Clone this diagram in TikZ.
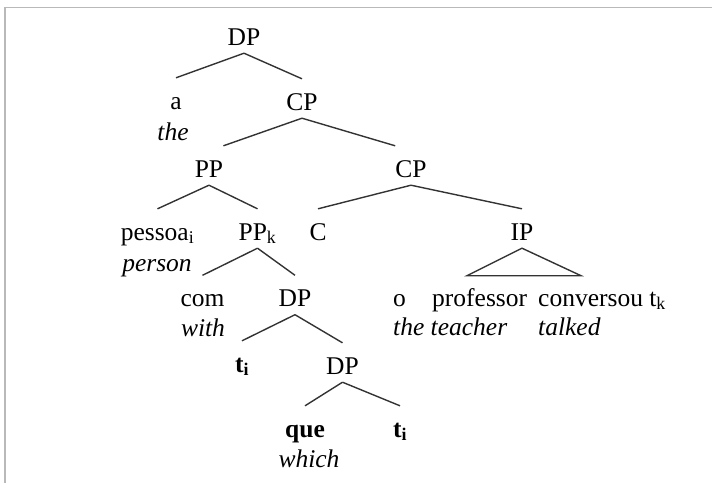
\documentclass[tikz,border=0pt]{standalone}
\usepackage{fontspec}
\setmainfont{Liberation Serif}
\usepackage{tikz}
\usetikzlibrary{positioning}
\tikzset{
    word/.style={anchor=base, inner sep=0pt, text height=31pt, text depth=8pt,
        font=\fontsize{25.5}{30}\selectfont}, % label of a tree node
    gloss/.style={word, font=\fontsize{25.5}{30}\selectfont\itshape}, % english gloss
    branch/.style={black!80, line width=1.4pt}
}

\begin{document}
\begin{tikzpicture}[x=1pt, y=-1pt]

    \useasboundingbox (0,0) rectangle (712,483);
    \draw[gray!55, line width=1.6pt] (712,7.5) -- (5,7.5) -- (5,483);

    \node[word] (DP0) at (244,45) {DP};

    \node[word] (a) at (176,109) {a};
    \node[gloss] (the) at (173,140) {the};
    \node[word] (CP1) at (302,110) {CP};

    \node[word] (PP) at (209,177) {PP};
    \node[word] (CP2) at (411,177) {CP};

    \node[word] (pessoa) at (157.5,240) {pessoa\textsubscript{i}};
    \node[gloss] (person) at (157,271) {person};
    \node[word] (PPk) at (257.5,240) {PP\textsubscript{k}};
    \node[word] (C) at (318,240) {C};
    \node[word] (IP) at (522,240) {IP};

    \node[word] (com) at (202.5,306.5) {com};
    \node[gloss] (with) at (203,336) {with};
    \node[word] (DP3) at (295,306.5) {DP};

    \node[word] (ti1) at (242,372) {\textbf{t\textsubscript{i}}};
    \node[word] (DP4) at (342.5,374) {DP};

    \node[word] (que) at (305,437) {\textbf{que}};
    \node[gloss] (which) at (309,467) {which};
    \node[word] (ti2) at (400,437) {\textbf{t\textsubscript{i}}};

    % leaves of IP
    \node[word, anchor=base west] (o) at (393,306) {o};
    \node[word, anchor=base west] (professor) at (432,306) {professor};
    \node[word, anchor=base west] (conversou) at (538,306) {conversou t\textsubscript{k}};
    \node[gloss, anchor=base west] (theteacher) at (393,335) {the teacher};
    \node[gloss, anchor=base west] (talked) at (538,335) {talked};

    \draw[branch] (DP0.south) -- (a.north);
    \draw[branch] (DP0.south) -- (CP1.north);

    \draw[branch] (CP1.south) -- (PP.north east);
    \draw[branch] (CP1.south) -- (CP2.north west);

    \draw[branch] (PP.south) -- (pessoa.north);
    \draw[branch] (PP.south) -- (PPk.north);

    \draw[branch] (CP2.south) -- (C.north);
    \draw[branch] (CP2.south) -- (IP.north);

    \draw[branch] (PPk.south) -- (com.north);
    \draw[branch] (PPk.south) -- (DP3.north);

    \draw[branch] (DP3.south) -- (ti1.north);
    \draw[branch] (DP3.south) -- (DP4.north);

    \draw[branch] (DP4.south) -- (que.north);
    \draw[branch] (DP4.south) -- (ti2.north);

    \coordinate (IPleft) at (467,275.7);
    \coordinate (IPright) at (581,275.7);
    \draw[branch] (IP.south) -- (IPleft) -- (IPright) -- cycle;

\end{tikzpicture}
\end{document}
